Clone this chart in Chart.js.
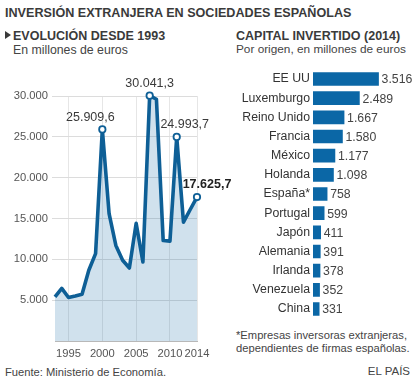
<!DOCTYPE html>
<html>
<head>
<meta charset="utf-8">
<script src="https://cdn.jsdelivr.net/npm/chart.js@4"></script>
<style>
  html, body { margin: 0; padding: 0; background: #fff; }
  body { width: 414px; height: 381px; position: relative; overflow: hidden; font-family: "Liberation Sans", Arial, sans-serif; color: #333; }
  .t { position: absolute; white-space: nowrap; line-height: 1; }
  #title { left: 5px; top: 7px; font-size: 12.6px; font-weight: bold; color: #3a3a3a; }
  .sub { font-size: 12.5px; font-weight: bold; color: #3a3a3a; }
  .note { color: #444; }
  #c1wrap { position: absolute; left: 0; top: 0; width: 240px; height: 381px; }
  #c2wrap { position: absolute; left: 210px; top: 0; width: 204px; height: 381px; }
  .bullet { position:absolute; left:5px; top:31px; width:0; height:0; border-top:4.5px solid transparent; border-bottom:4.5px solid transparent; border-left:6px solid #3a3a3a; }
</style>
</head>
<body>
<div class="t" id="title">INVERSIÓN EXTRANJERA EN SOCIEDADES ESPAÑOLAS</div>
<div class="bullet"></div>
<div class="t sub" style="left:13px; top:29.5px;">EVOLUCIÓN DESDE 1993</div>
<div class="t note" style="left:13px; top:44px; font-size:12.3px;">En millones de euros</div>
<div class="t sub" style="left:236px; top:29.5px;">CAPITAL INVERTIDO (2014)</div>
<div class="t note" style="left:236px; top:44px; font-size:11.8px;">Por origen, en millones de euros</div>
<div class="t" style="left:236px; top:329px; width:170px; text-align:center; font-size:11.2px; color:#444; line-height:13.3px;">*Empresas inversoras extranjeras,<br>dependientes de firmas españolas.</div>
<div class="t" style="left:5px; top:367px; font-size:11.2px; color:#444;">Fuente: Ministerio de Economía.</div>
<div class="t" style="right:4px; top:366px; font-size:11.5px; color:#444;">EL PAÍS</div>
<div id="c1wrap"><canvas id="c1"></canvas></div>
<div id="c2wrap"><canvas id="c2"></canvas></div>
<script>
// ---- Data ----
const years = [1993,1994,1995,1996,1997,1998,1999,2000,2001,2002,2003,2004,2005,2006,2007,2008,2009,2010,2011,2012,2013,2014];
const investment = [5400,6450,5330,5520,5730,8660,10700,25909.6,15600,11700,9880,8940,14400,9670,30041.3,29600,12300,12230,24993.7,14550,16100,17625.7];
const labeledYears = [2000,2007,2011,2014];
const xTickYears = [1995,2000,2005,2010,2014];
const yTickValues = [5000,10000,15000,20000,25000,30000];

const countries = ['EE UU','Luxemburgo','Reino Unido','Francia','México','Holanda','España*','Portugal','Japón','Alemania','Irlanda','Venezuela','China'];
const capital2014 = [3516,2489,1667,1580,1177,1098,758,599,411,391,378,352,331];

// ---- helpers ----
function fmtThousands(v) {
  return String(Math.round(v)).replace(/\B(?=(\d{3})+(?!\d))/g, '.');
}
function fmtDecimal(v) {
  const parts = v.toFixed(1).split('.');
  return parts[0].replace(/\B(?=(\d{3})+(?!\d))/g, '.') + ',' + parts[1];
}
const FONT = '"Liberation Sans", Arial, sans-serif';
const LINE = '#0e5f96';
const BAR = '#0b67a6';
const labelShift = { 2000: -12, 2007: 0, 2011: 8, 2014: 10 };

// ---- Left chart ----
const pointLabelsPlugin = {
  id: 'pointLabels',
  afterDatasetsDraw(chart) {
    const ctx = chart.ctx;
    const meta = chart.getDatasetMeta(0);
    ctx.save();
    ctx.textBaseline = 'bottom';
    ctx.textAlign = 'center';
    labeledYears.forEach((yr, k) => {
      const i = years.indexOf(yr);
      const el = meta.data[i];
      const last = k === labeledYears.length - 1;
      ctx.font = (last ? 'bold ' : '') + '12.5px ' + FONT;
      ctx.fillStyle = last ? '#222' : '#3a3a3a';
      ctx.fillText(fmtDecimal(investment[i]), el.x + labelShift[yr], el.y - 6);
    });
    ctx.restore();
  }
};

new Chart(document.getElementById('c1'), {
  type: 'line',
  data: {
    datasets: [{
      data: years.map((y, i) => ({ x: y, y: investment[i] })),
      borderColor: LINE,
      borderWidth: 3.6,
      backgroundColor: 'rgba(40,120,172,0.22)',
      fill: 'origin',
      tension: 0,
      clip: false,
      borderJoinStyle: 'round',
      pointRadius: c => labeledYears.includes(years[c.dataIndex]) ? 3.2 : 0,
      pointBackgroundColor: '#fff',
      pointBorderColor: LINE,
      pointBorderWidth: 1.8,
      pointHoverRadius: 0
    }]
  },
  options: {
    responsive: true,
    maintainAspectRatio: false,
    animation: false,
    events: [],
    layout: { padding: { top: 96, bottom: 15, right: 43, left: 0 } },
    plugins: { legend: { display: false }, tooltip: { enabled: false } },
    scales: {
      x: {
        type: 'linear', min: 1993, max: 2014,
        afterBuildTicks: s => { s.ticks = xTickYears.map(v => ({ value: v })); },
        afterFit: s => { s.height = 25; },
        ticks: { callback: v => String(v), color: '#555', font: { family: FONT, size: 11.2 }, maxRotation: 0, autoSkip: false, padding: 6 },
        grid: { color: '#e6e6e6', drawTicks: false },
        border: { color: '#b8b8b8', display: true }
      },
      y: {
        min: 0, max: 30000,
        afterBuildTicks: s => { s.ticks = [0].concat(yTickValues).map(v => ({ value: v })); },
        afterFit: s => { s.width = 55; },
        ticks: { callback: v => v === 0 ? '' : fmtThousands(v), color: '#555', font: { family: FONT, size: 11.2 }, padding: 4 },
        grid: { color: c => c.tick && c.tick.value === 0 ? 'rgba(0,0,0,0)' : '#dcdcdc', drawTicks: true, tickLength: 3 },
        border: { display: false }
      }
    }
  },
  plugins: [pointLabelsPlugin]
});

// ---- Right chart ----
const barValuesPlugin = {
  id: 'barValues',
  afterDatasetsDraw(chart) {
    const ctx = chart.ctx;
    const meta = chart.getDatasetMeta(0);
    ctx.save();
    ctx.font = '12.3px ' + FONT;
    ctx.fillStyle = '#444';
    ctx.textAlign = 'left';
    ctx.textBaseline = 'middle';
    meta.data.forEach((el, i) => {
      ctx.fillText(fmtThousands(capital2014[i]), el.x + 3, el.y + 1);
    });
    ctx.restore();
  }
};

new Chart(document.getElementById('c2'), {
  type: 'bar',
  data: {
    labels: countries,
    datasets: [{ data: capital2014, backgroundColor: BAR, barThickness: 13 }]
  },
  options: {
    indexAxis: 'y',
    responsive: true,
    maintainAspectRatio: false,
    animation: false,
    events: [],
    layout: { padding: { top: 69.4, bottom: 381 - 318.6, right: 5, left: 0 } },
    plugins: { legend: { display: false }, tooltip: { enabled: false } },
    scales: {
      x: { display: false, min: 0, max: 5150 },
      y: {
        afterFit: s => { s.width = 103; },
        ticks: { color: '#333', font: { family: FONT, size: 12.3 }, padding: 3 },
        grid: { display: false, drawTicks: false },
        border: { display: false }
      }
    }
  },
  plugins: [barValuesPlugin]
});
</script>
</body>
</html>
